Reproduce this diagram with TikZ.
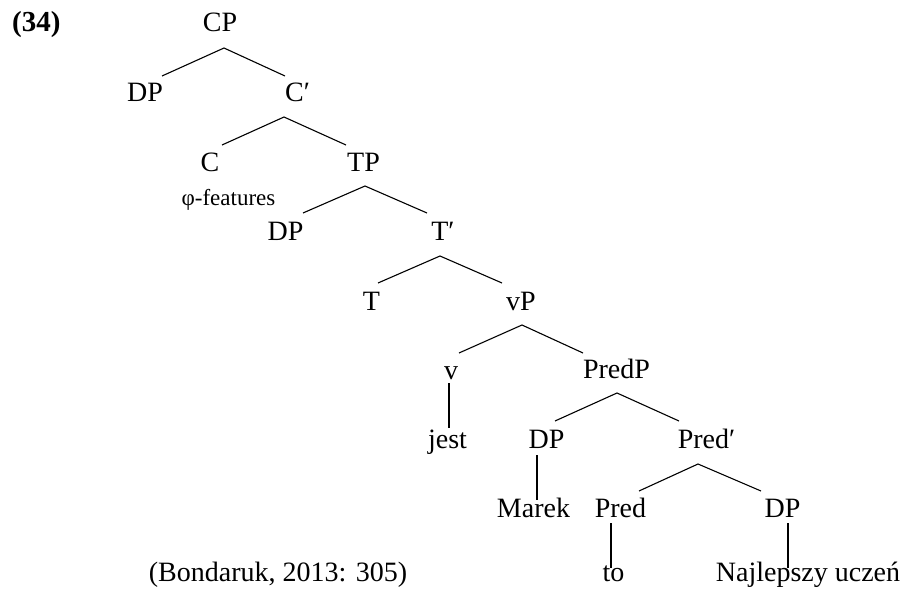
\documentclass[tikz,border=0pt]{standalone}
\usepackage{fontspec}
\setmainfont{Liberation Serif}
\begin{document}
\begin{tikzpicture}[x=1pt,y=-1pt,
  lab/.style={anchor=base,inner sep=0pt,font=\fontsize{28}{33}\selectfont},
  small/.style={anchor=base,inner sep=0pt,font=\fontsize{23}{27}\selectfont},
  edge/.style={line width=1.1pt,black}]
\useasboundingbox (0,0) rectangle (908,594);
\node[anchor=base west,inner sep=0pt,font=\fontsize{29}{34}\selectfont\bfseries] (ex) at (12,32) {(34)};
\node[lab] (CP) at (220,32) {CP};
\node[lab] (DP1) at (145,102) {DP};
\node[lab] (Cb) at (297.5,102) {C′};
\node[lab] (C) at (210,171) {C};
\node[lab] (TP) at (363.5,171) {TP};
\node[small] (phi) at (228.5,205) {φ-features};
\node[lab] (DP2) at (285.5,240) {DP};
\node[lab] (Tb) at (443,240) {T′};
\node[lab] (T) at (371.5,310) {T};
\node[lab] (vP) at (521,310) {vP};
\node[lab] (v) at (451,379) {v};
\node[lab] (PredP) at (616.5,378) {PredP};
\node[lab] (jest) at (447.5,448) {jest};
\node[lab] (DP3) at (546.5,448) {DP};
\node[lab] (Predb) at (706.5,448) {Pred′};
\node[lab] (Marek) at (533.5,517) {Marek};
\node[lab] (Pred) at (620.5,517) {Pred};
\node[lab] (DP4) at (782.5,517) {DP};
\node[lab] (to) at (613.5,581) {to};
\node[lab] (NU) at (808,581) {Najlepszy uczeń};
\node[lab] (cite) at (278,581) {(Bondaruk, 2013: 305)};
% branches
\draw[edge] ([shift={(17,-26)}]DP1.base) -- ([shift={(4,16)}]CP.base) -- ([shift={(-12.5,-26)}]Cb.base);
\draw[edge] ([shift={(12,-26)}]C.base) -- ([shift={(-13.5,15)}]Cb.base) -- ([shift={(-17.5,-26)}]TP.base);
\draw[edge] ([shift={(17.5,-27)}]DP2.base) -- ([shift={(1.5,15)}]TP.base) -- ([shift={(-16,-27)}]Tb.base);
\draw[edge] ([shift={(6.5,-27)}]T.base) -- ([shift={(-3,16)}]Tb.base) -- ([shift={(-19,-27)}]vP.base);
\draw[edge] ([shift={(8,-26)}]v.base) -- ([shift={(1,15)}]vP.base) -- ([shift={(-33.5,-25)}]PredP.base);
\draw[edge] ([shift={(8.5,-27)}]DP3.base) -- ([shift={(0.5,15)}]PredP.base) -- ([shift={(-27.5,-27)}]Predb.base);
\draw[edge] ([shift={(18.5,-26)}]Pred.base) -- ([shift={(-8.5,16)}]Predb.base) -- ([shift={(-21.5,-26)}]DP4.base);
% unary
\draw[edge] ([shift={(-2,4)}]v.base) -- ([shift={(1.5,-20)}]jest.base);
\draw[edge] ([shift={(-9.5,7)}]DP3.base) -- ([shift={(3.5,-17)}]Marek.base);
\draw[edge] ([shift={(-9.5,6)}]Pred.base) -- ([shift={(-2.5,-13)}]to.base);
\draw[edge] ([shift={(5.5,6)}]DP4.base) -- ([shift={(-20,-13)}]NU.base);
\end{tikzpicture}
\end{document}
